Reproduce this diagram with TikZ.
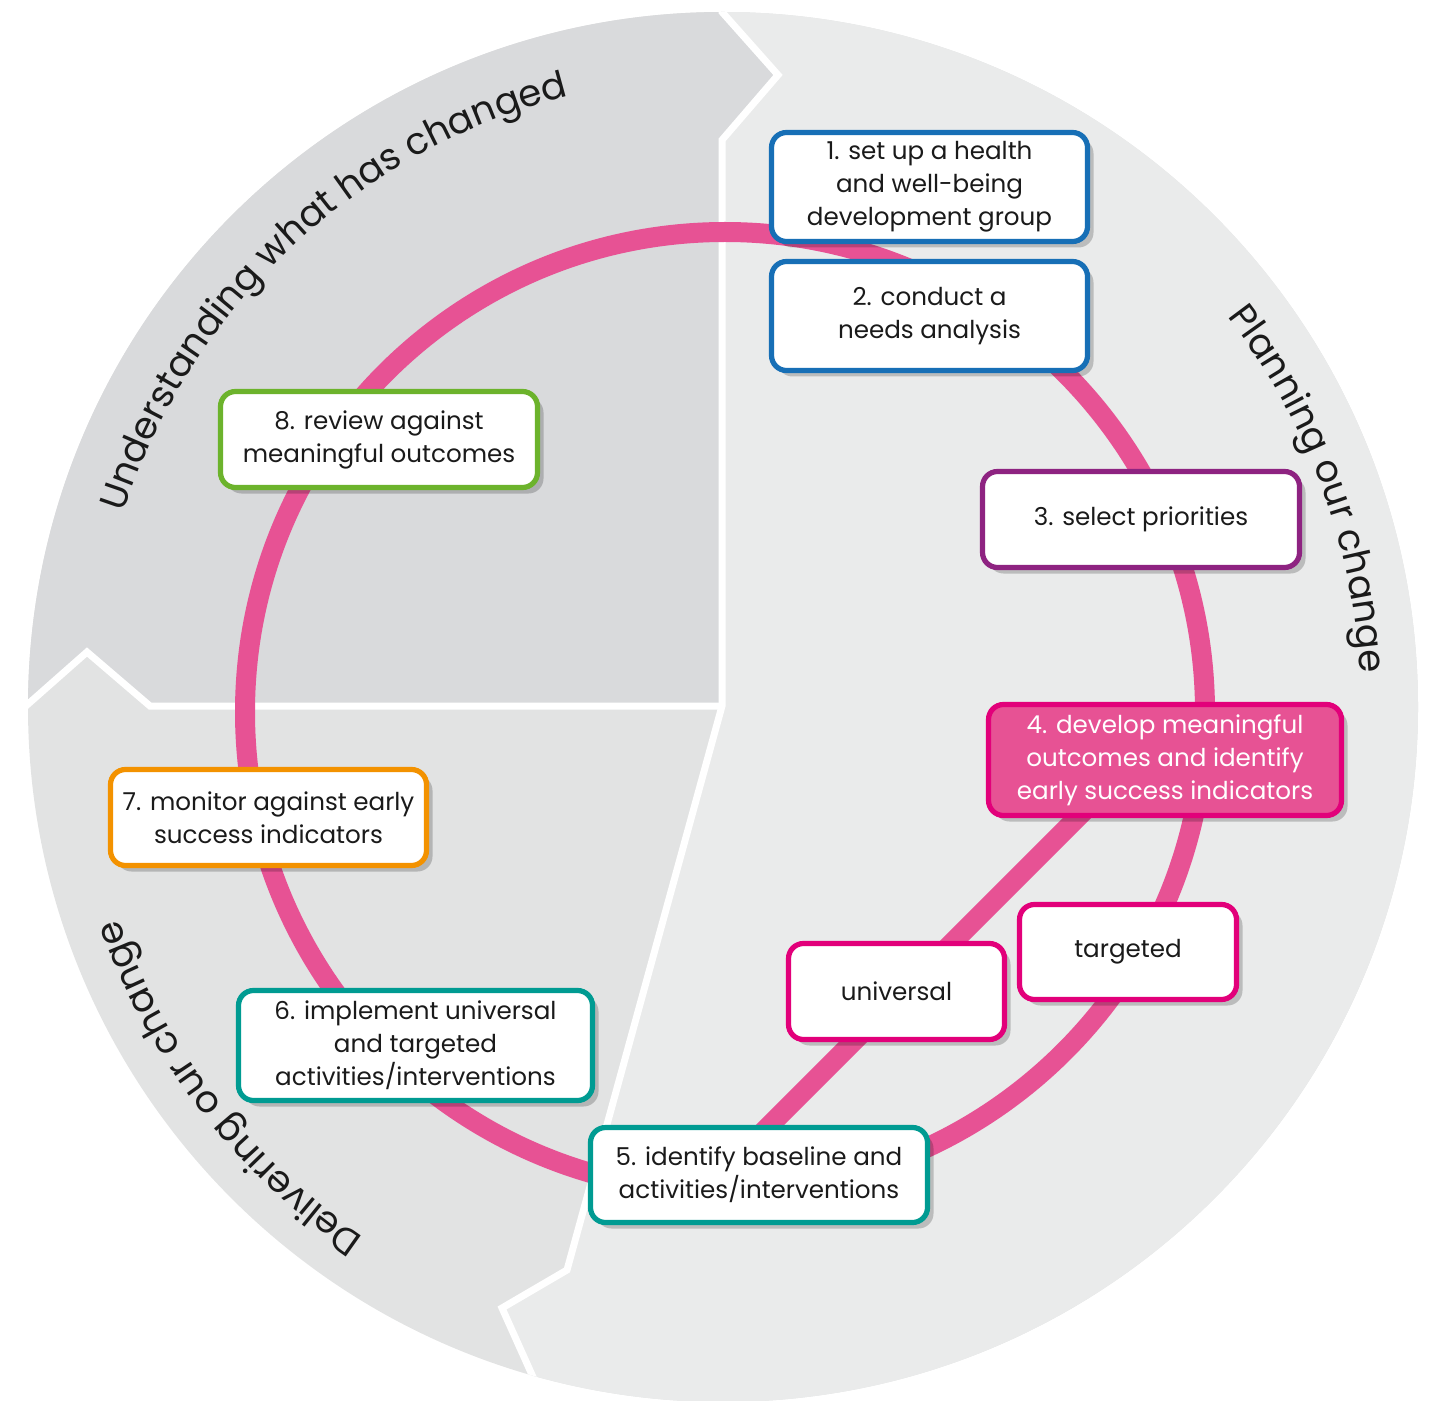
\documentclass[tikz,border=0pt]{standalone}
\usepackage{fontspec}
\setmainfont{Poppins}
\usetikzlibrary{shadows,decorations.text}
\definecolor{secA}{HTML}{D9DADC}
\definecolor{secB}{HTML}{EAEBEB}
\definecolor{secC}{HTML}{E2E3E3}
\definecolor{ringpink}{HTML}{E75294}
\definecolor{bluebd}{HTML}{176FB6}
\definecolor{purplebd}{HTML}{8E2381}
\definecolor{magbd}{HTML}{E2007A}
\definecolor{tealbd}{HTML}{009B92}
\definecolor{orangebd}{HTML}{F39200}
\definecolor{greenbd}{HTML}{6CB32C}
\definecolor{txt}{HTML}{1A1A1A}
\begin{document}
\begin{tikzpicture}[x=0.5pt,y=-0.5pt,
  stepbox/.style={draw, line width=2.6pt, rounded corners=7.5pt, fill=white,
    align=center, inner sep=0pt, outer sep=0pt, text=txt,
    font=\fontsize{12.3}{16.5}\selectfont,
    drop shadow={shadow xshift=3pt, shadow yshift=-3pt, opacity=0.2, fill=black}},
  ring/.style={draw=ringpink, line width=10pt},
  sep/.style={draw=white, line width=3.5pt, line join=miter}]
\useasboundingbox (0,0) rectangle (1439,1401);
\begin{scope}
  \clip (723,707) circle (695);
  \fill[secC] (723,707) circle (700);
  \fill[secA] (-60,-60) -- (722,-60) -- (722,12) -- (778,75) -- (722,140) -- (722,706)
     -- (150,706) -- (87,652) -- (27,705) -- (-60,783) -- cycle;
  \fill[secB] (722,-60) -- (1500,-60) -- (1500,1500) -- (560,1440) -- (533,1377)
     -- (502,1308) -- (567,1270) -- (722,706) -- (722,140) -- (778,75) -- (722,12) -- cycle;
  \draw[sep] (722,-60) -- (722,12) -- (778,75) -- (722,140) -- (722,706) -- (567,1270)
     -- (502,1308) -- (533,1377) -- (560,1440);
  \draw[sep] (722,706) -- (150,706) -- (87,652) -- (27,705) -- (-60,783);
\end{scope}

% sector labels
\path[decorate, decoration={text along path, text align=center,
  text={|\fontsize{18.6}{22}\selectfont\color{txt}|Understanding what has changed}}]
  (723,707) ++(186.9:630) arc (186.9:266.9:630);
\path[decorate, decoration={text along path, text align=center,
  text={|\fontsize{18.6}{22}\selectfont\color{txt}|Planning our change}}]
  (723,707) ++(299.6:638) arc (299.6:379.6:638);
\path[decorate, decoration={text along path, text align=center,
  text={|\fontsize{18.6}{22}\selectfont\color{txt}|Delivering our change}}]
  (723,707) ++(102.4:640) arc (102.4:182.4:640);

% ring and chord
\draw[ring] (725,712) circle (480);
\coordinate (chA) at (1120,775);
\coordinate (chB) at (740,1155);
\draw[ring] (chA) -- (chB);

% boxes
\node[stepbox, draw=bluebd, minimum width=158pt, minimum height=54.5pt] (n1) at (929.5,187)
  {1. set up a health\\and well-being\\development group};
\node[stepbox, draw=bluebd, minimum width=158pt, minimum height=54.5pt] (n2) at (929.5,316)
  {2. conduct a\\needs analysis};
\node[stepbox, draw=purplebd, minimum width=158.5pt, minimum height=48pt] (n3) at (1141,519.5)
  {3. select priorities};
\node[stepbox, draw=magbd, fill=ringpink, text=white, minimum width=176.5pt, minimum height=55.5pt] (n4) at (1165,760)
  {4. develop meaningful\\outcomes and identify\\early success indicators};
\node[stepbox, draw=magbd, minimum width=108.5pt, minimum height=47.5pt] (tg) at (1128,952)
  {targeted};
\node[stepbox, draw=magbd, minimum width=108pt, minimum height=48pt] (un) at (896.5,991.5)
  {universal};
\node[stepbox, draw=tealbd, minimum width=168.5pt, minimum height=47.5pt] (n5) at (759,1175)
  {5. identify baseline and\\activities/interventions};
\node[stepbox, draw=tealbd, minimum width=177pt, minimum height=55pt] (n6) at (415.5,1045.5)
  {6. implement universal\\and targeted\\activities/interventions};
\node[stepbox, draw=orangebd, minimum width=158pt, minimum height=48pt] (n7) at (268.5,817.5)
  {7. monitor against early\\success indicators};
\node[stepbox, draw=greenbd, minimum width=158.5pt, minimum height=48pt] (n8) at (379,439.5)
  {8. review against\\meaningful outcomes};
\end{tikzpicture}
\end{document}
